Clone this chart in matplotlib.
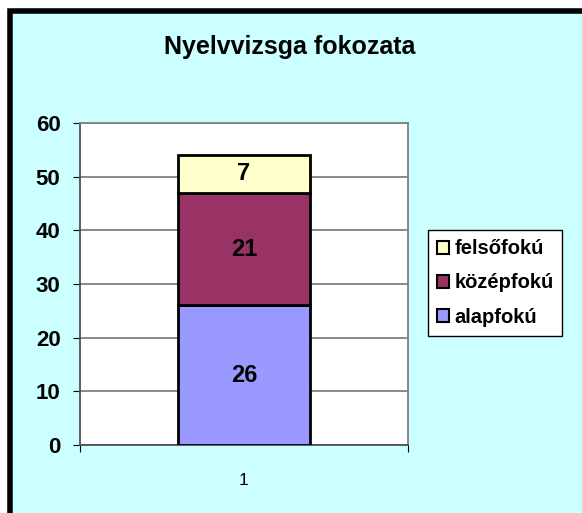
import matplotlib.pyplot as plt
from matplotlib.patches import Rectangle, Patch

plt.rcParams['font.family'] = ['Liberation Sans', 'DejaVu Sans']

categories = ['1']
levels = ['alapfokú', 'középfokú', 'felsőfokú']
values = [[26], [21], [7]]
colors = ['#9999FF', '#993366', '#FFFFCC']
title = 'Nyelvvizsga fokozata'

W, H = 582, 513
fig = plt.figure(figsize=(W / 100, H / 100), dpi=100, facecolor='white')

# chart area background with black frame (cropped on right/bottom)
fig.patches.append(Rectangle((10.5 / W, -0.05), 1.1, 1 - 11.5 / H + 0.05,
                             transform=fig.transFigure, facecolor='#CCFFFF',
                             edgecolor='black', linewidth=4, zorder=-10))

ax = fig.add_axes([80 / W, 1 - 445 / H, 328 / W, 322 / H])
ax.set_facecolor('white')

x = [1]
bottom = [0]
for lab, vals, col in zip(levels, values, colors):
    bars = ax.bar(x, vals, width=0.4, bottom=bottom, color=col,
                  edgecolor='black', linewidth=2, label=lab, zorder=3)
    for b, v, b0 in zip(bars, vals, bottom):
        ax.text(b.get_x() + b.get_width() / 2, b0 + v / 2, str(v),
                ha='center', va='center', fontsize=17, fontweight='bold', zorder=4)
    bottom = [b0 + v for b0, v in zip(bottom, vals)]

ax.set_xlim(0.5, 1.5)
ax.set_ylim(0, 60)
ax.set_yticks(range(0, 61, 10))
ax.set_yticklabels([str(v) for v in range(0, 61, 10)], fontsize=16, fontweight='bold')
ax.set_xticks([0.5, 1.5])
ax.set_xticklabels([])
ax.set_xticks([1], minor=True)
ax.set_xticklabels(categories, minor=True, fontsize=12.5)
ax.tick_params(axis='x', which='minor', length=0, pad=20)
ax.tick_params(axis='x', which='major', length=5, color='black', direction='out')
ax.tick_params(axis='y', length=5, color='black', direction='out', pad=9)
ax.yaxis.grid(True, color='#808080', linewidth=1.3, zorder=1)
ax.set_axisbelow(True)
for s in ['top', 'right']:
    ax.spines[s].set_color('#808080')
    ax.spines[s].set_linewidth(1.3)
for s in ['left', 'bottom']:
    ax.spines[s].set_color('#505050')
    ax.spines[s].set_linewidth(1.3)

fig.text(290 / W, 1 - 47 / H, title, ha='center', va='center',
         fontsize=18, fontweight='bold')

handles = [Patch(facecolor=c, edgecolor='black', linewidth=1.5, label=l)
           for l, c in zip(levels, colors)][::-1]
leg = fig.legend(handles=handles, loc='center left',
                 bbox_to_anchor=(428 / W, 1 - 283 / H),
                 prop={'weight': 'bold', 'size': 14.5},
                 frameon=True, fancybox=False, edgecolor='black',
                 facecolor='white', framealpha=1,
                 handlelength=0.6, handleheight=0.6, handletextpad=0.25,
                 labelspacing=0.75, borderpad=0.45, borderaxespad=0)
leg.get_frame().set_linewidth(1)

fig.savefig('out.png', dpi=100, facecolor='white')
